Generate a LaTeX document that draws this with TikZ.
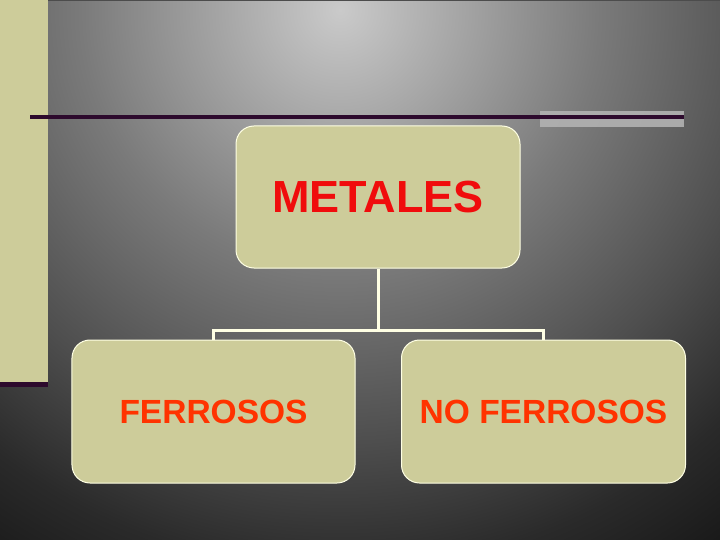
\documentclass[tikz,border=0pt]{standalone}
\usepackage{fontspec}
\setmainfont{Liberation Sans}
\definecolor{bgA}{RGB}{202,202,202}
\definecolor{bgB}{RGB}{122,122,122}
\definecolor{bgC}{RGB}{78,78,78}
\definecolor{bgD}{RGB}{42,42,42}
\definecolor{bgE}{RGB}{18,18,18}
\definecolor{beige}{RGB}{205,204,154}
\definecolor{plum}{RGB}{45,10,45}
\definecolor{cream}{RGB}{255,255,228}
\definecolor{titlered}{RGB}{240,12,12}
\definecolor{subred}{RGB}{255,51,0}
\pgfdeclareradialshading{bgshade}{\pgfpoint{0bp}{0bp}}{color(0bp)=(bgA); color(11.6bp)=(bgB); color(19.3bp)=(bgC); color(25bp)=(bgD); color(31bp)=(bgE); color(50bp)=(bgE)}
\tikzset{
  box/.style={draw=cream, line width=1bp, fill=beige, rounded corners=18bp, inner sep=0pt, font=\bfseries},
  link/.style={draw=cream, line width=3bp}
}
\begin{document}
\begin{tikzpicture}[x=1bp,y=-1bp]
\useasboundingbox (0,0) rectangle (720,540);
\begin{scope}
  \clip (0,0) rectangle (720,540);
  \fill[bgE] (0,0) rectangle (720,540);
  \shade[shading=bgshade] (-220,-550) rectangle (900,570);
  \fill[beige] (0,0) rectangle (48,383);
  \fill[plum] (0,382) rectangle (48,387);
  \fill[black!70] (48,0) rectangle (720,1.5);
  \fill[gray!60, opacity=0.9] (540,111) rectangle (684,127);
  \fill[plum] (30,115.2) rectangle (684,119);
\end{scope}
\node[box, minimum width=284bp, minimum height=142bp, text=titlered, font=\bfseries\fontsize{45bp}{50bp}\selectfont] (m) at (378,197) {METALES};
\node[box, minimum width=283bp, minimum height=143bp, text=subred, font=\bfseries\fontsize{33.5bp}{38bp}\selectfont] (f) at (213.5,411.5) {FERROSOS};
\node[box, minimum width=284bp, minimum height=143bp, text=subred, font=\bfseries\fontsize{33.5bp}{38bp}\selectfont] (nf) at (543.5,411.5) {NO FERROSOS};
\coordinate (hub) at (378,330);
\draw[link] (m.south) -- (hub);
\draw[link] (hub) -| (f.north);
\draw[link] (hub) -| (nf.north);
\end{tikzpicture}
\end{document}
